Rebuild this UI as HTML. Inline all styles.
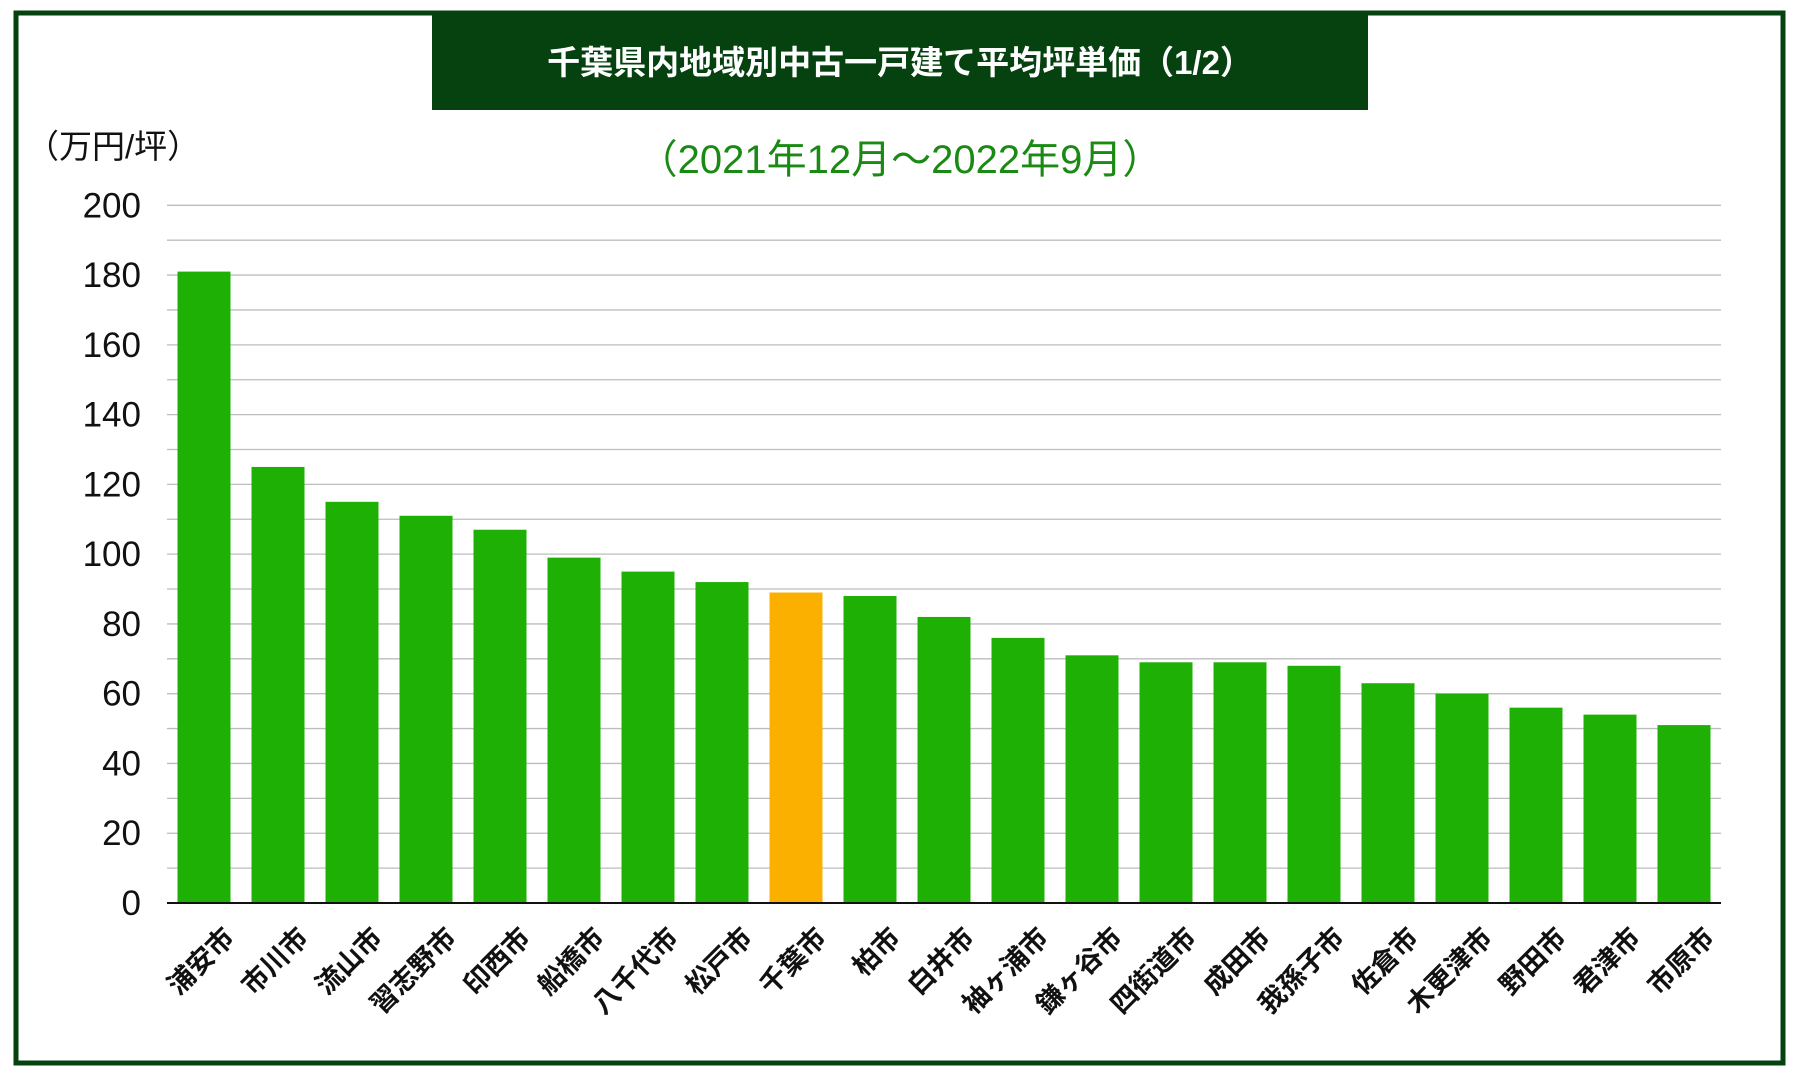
<!DOCTYPE html>
<html><head><meta charset="utf-8"><style>
body{margin:0;background:#fff;}
svg{display:block;font-family:"Liberation Sans","Noto Sans CJK JP",sans-serif;}
</style></head><body>
<svg id="c" width="1799" height="1083">
<rect x="16" y="13" width="1767" height="1050" fill="#fff" stroke="#05420f" stroke-width="5"/>
<rect x="432" y="14" width="936" height="96" fill="#05420f"/>
<text x="900" y="74" fill="#fff" font-size="33" font-weight="bold" text-anchor="middle">千葉県内地域別中古一戸建て平均坪単価（1/2）</text>
<text x="900" y="173" fill="#1a8a14" font-size="40" text-anchor="middle">（2021年12月〜2022年9月）</text>
<text x="26" y="158" fill="#111" font-size="33">（万円/坪）</text>
<g id="grid"></g><g id="bars"></g><g id="labels"></g>
</svg>
<script>
const categories=["浦安市","市川市","流山市","習志野市","印西市","船橋市","八千代市","松戸市","千葉市","柏市","白井市","袖ヶ浦市","鎌ヶ谷市","四街道市","成田市","我孫子市","佐倉市","木更津市","野田市","君津市","市原市"];
const values=[181,125,115,111,107,99,95,92,89,88,82,76,71,69,69,68,63,60,56,54,51];
const highlight=["千葉市"];
const ticks=[0,20,40,60,80,100,120,140,160,180,200];
const NS="http://www.w3.org/2000/svg";
const x0=167,x1=1721,y0=903,yTop=205.3,vmax=200;
const band=(x1-x0)/categories.length,bw=53;
const y=v=>y0-(v/vmax)*(y0-yTop);
const xb=i=>x0+i*band+(band-bw)/2;
function mk(t,a,p){const e=document.createElementNS(NS,t);for(const k in a)e.setAttribute(k,a[k]);p.appendChild(e);return e;}
const g=document.getElementById('grid');
for(let v=10;v<=vmax;v+=10){
 const l=mk('line',{x1:x0,x2:x1,y1:y(v),y2:y(v),stroke:'#bdbdbd','stroke-width':1.3},g);
 
 
}
ticks.forEach(v=>{
 const t=mk('text',{x:141,y:y(v)+12,'text-anchor':'end','font-size':35,fill:'#111'},g);
 t.textContent=v;
 
 
});
const b=document.getElementById('bars'),lb=document.getElementById('labels');
categories.forEach((c,i)=>{
 const r=mk('rect',{x:xb(i),y:y(values[i]),width:bw,height:y0-y(values[i]),fill:highlight.includes(c)?'#fbb000':'#1fb005'},b);
 
 
 const cx=xb(i)+bw/2+18,cy=y0+22;
 const t=mk('text',{x:cx,y:cy+20,'text-anchor':'end','font-size':27,'font-weight':'bold',fill:'#111',transform:`rotate(-45 ${cx} ${cy})`},lb);
 t.textContent=c;
 
 
});
const ax=mk('line',{x1:x0,x2:x1,y1:y0,y2:y0,stroke:'#111','stroke-width':2},b);


</script>
</body></html>
